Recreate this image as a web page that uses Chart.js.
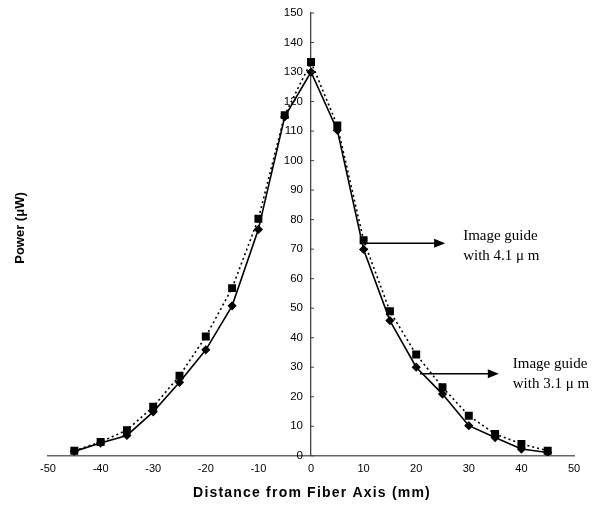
<!DOCTYPE html>
<html>
<head>
<meta charset="utf-8">
<script src="https://cdn.jsdelivr.net/npm/chart.js@4.4.0/dist/chart.umd.min.js"></script>
<style>
  html, body { margin: 0; padding: 0; background: #fff; }
  #wrap { width: 602px; height: 505px; }
</style>
</head>
<body>
<div id="wrap"><canvas id="powerChart"></canvas></div>
<script>
  const distances = [-45, -40, -35, -30, -25, -20, -15, -10, -5, 0, 5, 10, 15, 20, 25, 30, 35, 40, 45];
  const guide31 = [1.5, 4.3, 6.9, 14.9, 24.9, 35.9, 50.8, 76.7, 114.8, 130, 110.3, 69.9, 45.8, 30, 20.9, 10.2, 6.2, 2.3, 1.1];
  const guide41 = [1.7, 4.7, 8.7, 16.6, 27.1, 40.4, 56.8, 80.3, 115.4, 133.4, 111.9, 73, 49, 34.3, 23.2, 13.6, 7.4, 4, 1.7];
  const xTicks = [-50, -40, -30, -20, -10, 0, 10, 20, 30, 40, 50];

  // label + arrow (data coords): arrow points right to the text
  const notes = [
    { lines: ["Image guide", "with 4.1 \u03bc m"], from: [9.9, 72], to: [25.5, 72] },
    { lines: ["Image guide", "with 3.1 \u03bc m"], from: [20.7, 27.8], to: [35.7, 27.8] },
  ];

  const toPoints = (ys) => distances.map((x, i) => ({ x, y: ys[i] }));

  const extras = {
    id: "extras",
    afterDraw(chart) {
      const ctx = chart.ctx;
      const xs = chart.scales.x, ys = chart.scales.y;
      const axisX = xs.getPixelForValue(0);

      // y tick labels + marks, left of the centre axis
      ctx.save();
      ctx.fillStyle = "#000";
      ctx.strokeStyle = "#444";
      ctx.lineWidth = 1;
      ctx.font = "11.5px Arial, 'Liberation Sans', sans-serif";
      ctx.textAlign = "right";
      ctx.textBaseline = "middle";
      ys.ticks.forEach((t) => {
        const py = ys.getPixelForValue(t.value);
        ctx.fillText(String(t.value), axisX - 8, py);
        ctx.beginPath();
        ctx.moveTo(axisX, py);
        ctx.lineTo(axisX + 3, py);
        ctx.stroke();
      });
      ctx.restore();

      // axis titles
      ctx.save();
      ctx.fillStyle = "#000";
      ctx.textAlign = "center";
      ctx.textBaseline = "middle";
      ctx.font = "bold 14px Arial, 'Liberation Sans', sans-serif";
      ctx.letterSpacing = "1.2px";
      ctx.fillText("Distance from Fiber Axis (mm)", 312, 493);
      ctx.letterSpacing = "0px";
      ctx.translate(20, 228);
      ctx.rotate(-Math.PI / 2);
      ctx.font = "bold 13px Arial, 'Liberation Sans', sans-serif";
      ctx.fillText("Power (\u03bcW)", 0, 0);
      ctx.restore();

      // arrows and labels
      ctx.save();
      ctx.strokeStyle = "#000";
      ctx.fillStyle = "#000";
      ctx.lineWidth = 1.3;
      notes.forEach((n, k) => {
        const x1 = xs.getPixelForValue(n.from[0]);
        const x2 = xs.getPixelForValue(n.to[0]);
        const y = ys.getPixelForValue(n.from[1]);
        ctx.beginPath();
        ctx.moveTo(x1, y);
        ctx.lineTo(x2 - 10, y);
        ctx.stroke();
        ctx.beginPath();
        ctx.moveTo(x2, y);
        ctx.lineTo(x2 - 11, y - 4.5);
        ctx.lineTo(x2 - 11, y + 4.5);
        ctx.closePath();
        ctx.fill();
        ctx.font = "15px 'Liberation Serif', 'Times New Roman', serif";
        ctx.textAlign = "left";
        ctx.textBaseline = "alphabetic";
        const tx = k === 0 ? x2 + 18 : x2 + 14;
        const ty = k === 0 ? y - 3 : y - 6;
        ctx.fillText(n.lines[0], tx, ty);
        ctx.fillText(n.lines[1], tx, ty + 20);
      });
      ctx.restore();
    },
  };

  new Chart(document.getElementById("powerChart"), {
    type: "scatter",
    data: {
      datasets: [
        {
          label: "Image guide with 3.1 \u03bcm",
          data: toPoints(guide31),
          showLine: true,
          borderColor: "#000",
          backgroundColor: "#000",
          borderWidth: 1.6,
          pointStyle: "rectRot",
          pointRadius: 3.5,
          pointHoverRadius: 3.5,
        },
        {
          label: "Image guide with 4.1 \u03bcm",
          data: toPoints(guide41),
          showLine: true,
          borderColor: "#000",
          backgroundColor: "#000",
          borderWidth: 1.6,
          borderDash: [2, 3],
          pointStyle: "rect",
          pointRadius: 4.5,
          pointHoverRadius: 4.5,
        },
      ],
    },
    options: {
      responsive: true,
      maintainAspectRatio: false,
      animation: false,
      layout: { padding: { left: 48, right: 28, top: 13, bottom: 25 } },
      plugins: { legend: { display: false }, tooltip: { enabled: false } },
      scales: {
        x: {
          type: "linear",
          min: -50,
          max: 50,
          afterBuildTicks: (axis) => { axis.ticks = xTicks.map((v) => ({ value: v })); },
          grid: { display: false, drawOnChartArea: false, tickLength: 3 },
          border: { color: "#666", width: 1.5 },
          ticks: { color: "#000", font: { family: "Arial, 'Liberation Sans', sans-serif", size: 11 }, padding: 4 },
          title: { display: false },
        },
        y: {
          type: "linear",
          position: { x: 0 },
          min: 0,
          max: 150,
          grid: { display: false, drawOnChartArea: false, drawTicks: false },
          border: { color: "#444", width: 1.3 },
          ticks: { stepSize: 10, display: false },
        },
      },
    },
    plugins: [extras],
  });
</script>
</body>
</html>
